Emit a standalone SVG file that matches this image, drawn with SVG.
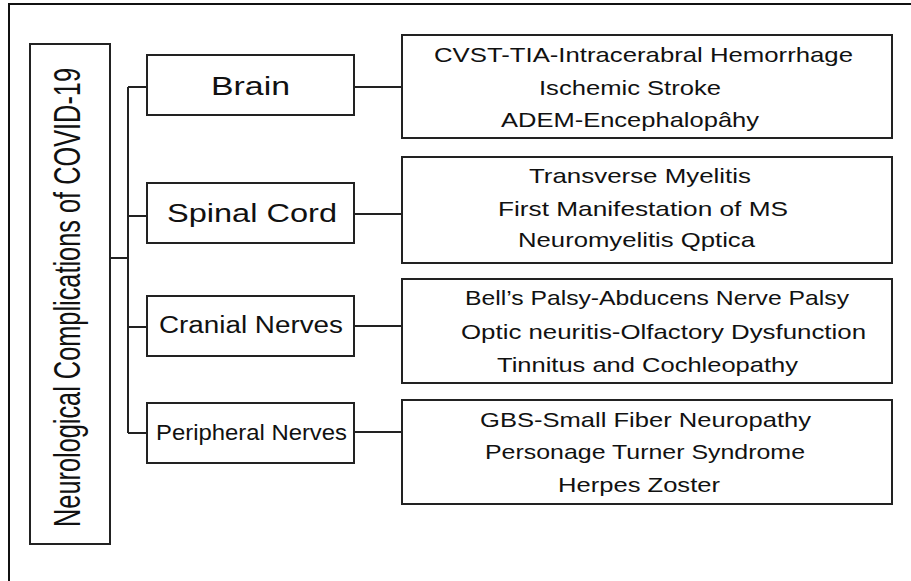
<svg xmlns="http://www.w3.org/2000/svg" width="911" height="581" viewBox="0 0 911 581">
<style>
.box{fill:#fff;stroke:#222;stroke-width:2}
.ln{fill:none;stroke:#222;stroke-width:2}
text{font-family:"Liberation Sans",Arial,sans-serif;fill:#111}
.cat{text-anchor:middle}
.item{text-anchor:middle;font-size:21px}
</style>
<rect x="0" y="0" width="911" height="581" fill="#fff"/>
<rect x="9" y="4" width="920" height="620" fill="none" stroke="#111" stroke-width="2"/>
<g id="connectors">
<path class="ln" d="M110 258H128M128 87V433M128 87H147M128 216H147M128 327H147M128 433H147"/>
<path class="ln" d="M354 87H402M354 214H402M354 326H402M354 432H402"/>
</g>
<g id="root">
<rect class="box" x="30" y="44" width="80" height="500"/>
<text transform="translate(80,297.5) rotate(-90)" text-anchor="middle" font-size="37" textLength="459" lengthAdjust="spacingAndGlyphs">Neurological Complications of COVID-19</text>
</g>
<g id="brain">
<rect class="box" x="147" y="55" width="207" height="60"/>
<text class="cat" x="250.5" y="95" font-size="26" textLength="79" lengthAdjust="spacingAndGlyphs">Brain</text>
</g>
<g id="spinal">
<rect class="box" x="147" y="183" width="207" height="60"/>
<text class="cat" x="252" y="222" font-size="26" textLength="170" lengthAdjust="spacingAndGlyphs">Spinal Cord</text>
</g>
<g id="cranial">
<rect class="box" x="147" y="296" width="207" height="60"/>
<text class="cat" x="251" y="333" font-size="23" textLength="184" lengthAdjust="spacingAndGlyphs">Cranial Nerves</text>
</g>
<g id="peripheral">
<rect class="box" x="147" y="403" width="207" height="60"/>
<text class="cat" x="251.5" y="440" font-size="22" textLength="191" lengthAdjust="spacingAndGlyphs">Peripheral Nerves</text>
</g>
<g id="brain-items">
<rect class="box" x="402" y="35" width="490" height="103"/>
<text class="item" x="643.5" y="62" textLength="419" lengthAdjust="spacingAndGlyphs">CVST-TIA-Intracerabral Hemorrhage</text>
<text class="item" x="630" y="95" textLength="182" lengthAdjust="spacingAndGlyphs">Ischemic Stroke</text>
<text class="item" x="630" y="127" textLength="258" lengthAdjust="spacingAndGlyphs">ADEM-Encephalopâhy</text>
</g>
<g id="spinal-items">
<rect class="box" x="402" y="157" width="490" height="106"/>
<text class="item" x="640" y="183" textLength="222" lengthAdjust="spacingAndGlyphs">Transverse Myelitis</text>
<text class="item" x="643" y="216" textLength="290" lengthAdjust="spacingAndGlyphs">First Manifestation of MS</text>
<text class="item" x="636.5" y="247" textLength="237" lengthAdjust="spacingAndGlyphs">Neuromyelitis Qptica</text>
</g>
<g id="cranial-items">
<rect class="box" x="402" y="279" width="490" height="104"/>
<text class="item" x="657" y="305" textLength="384" lengthAdjust="spacingAndGlyphs">Bell’s Palsy-Abducens Nerve Palsy</text>
<text class="item" x="663.5" y="339" textLength="405" lengthAdjust="spacingAndGlyphs">Optic neuritis-Olfactory Dysfunction</text>
<text class="item" x="647.5" y="372" textLength="301" lengthAdjust="spacingAndGlyphs">Tinnitus and Cochleopathy</text>
</g>
<g id="peripheral-items">
<rect class="box" x="402" y="400" width="490" height="104"/>
<text class="item" x="645.5" y="427" textLength="331" lengthAdjust="spacingAndGlyphs">GBS-Small Fiber Neuropathy</text>
<text class="item" x="645" y="459" textLength="320" lengthAdjust="spacingAndGlyphs">Personage Turner Syndrome</text>
<text class="item" x="639" y="492" textLength="162" lengthAdjust="spacingAndGlyphs">Herpes Zoster</text>
</g>
</svg>
